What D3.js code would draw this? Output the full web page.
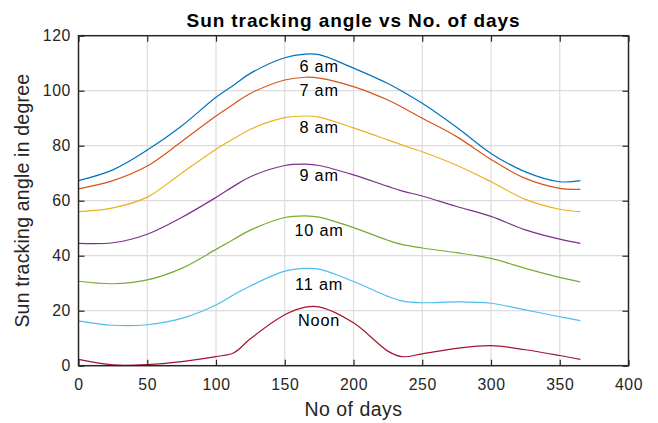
<!DOCTYPE html>
<html><head><meta charset="utf-8">
<script src="https://cdn.jsdelivr.net/npm/d3@7"></script>
<style>body{margin:0;background:#fff}svg{display:block;font-family:"Liberation Sans",Arial,sans-serif}</style>
</head><body><svg id="c" width="658" height="423"></svg>
<script>
const days = [0,25,50,75,100,113,125,150,165,175,200,225,235,250,275,300,325,350,365];
const am6  = [67.3,71.2,78.4,87.2,97.6,102.1,106.3,112.0,113.3,113.1,108.2,102.6,99.9,95.4,86.7,77.2,70.5,66.9,67.3];
const am7  = [64.3,67.3,72.6,81.5,90.8,95.2,99.0,103.9,104.9,104.6,101.5,96.6,94.1,90.0,83.3,75.0,68.1,64.5,64.1];
const am8  = [56.0,57.4,61.3,70.0,78.7,82.6,86.0,90.2,90.8,90.4,86.5,82.1,80.3,77.8,72.9,66.9,60.5,56.9,56.0];
const am9  = [44.5,44.7,47.8,53.9,61.2,65.3,68.7,72.8,73.3,72.8,69.4,65.2,63.6,61.7,57.9,54.3,49.4,46.0,44.5];
const am10 = [30.7,29.8,31.2,35.4,42.3,46.0,49.3,53.9,54.5,54.0,50.2,45.6,44.1,42.8,41.1,39.0,35.4,32.1,30.5];
const am11 = [16.3,14.7,14.9,17.2,22.1,25.8,29.0,34.4,35.4,35.1,30.6,25.2,23.6,22.9,23.2,22.7,20.3,17.8,16.4];
const noon = [2.3,0.3,0.4,1.5,3.3,4.7,9.8,18.5,21.3,21.4,15.6,5.3,3.3,4.3,6.3,7.3,5.8,3.7,2.3];
const seriesNames = ["6 am","7 am","8 am","9 am","10 am","11 am","Noon"];
const labelDay = [175,175,175,175,175,175,175];
const labelVal = [108.9,100.4,86.7,69.5,49.5,29.8,16.8];
const xTicks = [0,50,100,150,200,250,300,350,400];
const yTicks = [0,20,40,60,80,100,120];
const colors = ["#0072BD","#D95319","#EDB120","#7E2F8E","#77AC30","#4DBEEE","#A2142F"];
const allSeries = [am6,am7,am8,am9,am10,am11,noon];

const svg = d3.select("#c");
const L=78.5, R=628.5, T=35.7, B=365.7;
const x = d3.scaleLinear().domain([0,400]).range([L,R]);
const y = d3.scaleLinear().domain([0,120]).range([B,T]);
const ink = "#262626";

// grid
svg.append("g").selectAll("line").data(xTicks.slice(1,-1)).join("line")
  .attr("x1",d=>x(d)).attr("x2",d=>x(d)).attr("y1",T).attr("y2",B)
  .attr("stroke","#dcdcdc").attr("stroke-width",1.2);
svg.append("g").selectAll("line").data(yTicks.slice(1,-1)).join("line")
  .attr("y1",d=>y(d)).attr("y2",d=>y(d)).attr("x1",L).attr("x2",R)
  .attr("stroke","#dcdcdc").attr("stroke-width",1.2);

// lines
const line = d3.line().x(d=>x(d[0])).y(d=>y(d[1])).curve(d3.curveCatmullRom.alpha(0.5));
allSeries.forEach((s,i)=>{
  svg.append("path").datum(days.map((d,j)=>[d,s[j]]))
    .attr("d",line).attr("fill","none").attr("stroke",colors[i]).attr("stroke-width",1.2);
});

// labels
svg.append("g").selectAll("text").data(seriesNames).join("text")
  .attr("x",(d,i)=>x(labelDay[i])).attr("y",(d,i)=>y(labelVal[i]))
  .attr("text-anchor","middle").attr("dominant-baseline","central")
  .attr("font-size",16.3).attr("letter-spacing",0.8).attr("fill","#000").text(d=>d);

// axes
const fs = 15.8;
const xb = d3.axisBottom(x).tickValues(xTicks).tickSizeInner(-6).tickSizeOuter(0).tickPadding(13.5);
const gx = svg.append("g").attr("transform",`translate(0,${B})`).call(xb);
const xt = d3.axisTop(x).tickValues(xTicks).tickSizeInner(-6).tickSizeOuter(0).tickFormat("");
const gxt = svg.append("g").attr("transform",`translate(0,${T})`).call(xt);
const yl = d3.axisLeft(y).tickValues(yTicks).tickSizeInner(-6).tickSizeOuter(0).tickPadding(7.5);
const gy = svg.append("g").attr("transform",`translate(${L},0)`).call(yl);
const yr = d3.axisRight(y).tickValues(yTicks).tickSizeInner(-6).tickSizeOuter(0).tickFormat("");
const gyr = svg.append("g").attr("transform",`translate(${R},0)`).call(yr);
[gx,gxt,gy,gyr].forEach(g=>{
  g.select(".domain").remove();
  g.selectAll("line").attr("stroke",ink).attr("stroke-width",1.2);
  g.selectAll("text").attr("fill",ink).attr("font-size",fs).attr("letter-spacing",0.6)
    .attr("font-family","Liberation Sans, Arial, sans-serif");
});
svg.append("rect").attr("x",L).attr("y",T).attr("width",R-L).attr("height",B-T)
  .attr("fill","none").attr("stroke",ink).attr("stroke-width",1.5);

// titles
svg.append("text").attr("x",(L+R)/2).attr("y",26.5).attr("text-anchor","middle")
  .attr("font-weight","bold").attr("font-size",19).attr("letter-spacing",0.9).attr("fill","#000")
  .text("Sun tracking angle vs No. of days");
svg.append("text").attr("x",(L+R)/2).attr("y",415.5).attr("text-anchor","middle")
  .attr("font-size",19.5).attr("letter-spacing",0.5).attr("fill",ink).text("No of days");
svg.append("text").attr("transform",`translate(28.5,${(T+B)/2}) rotate(-90)`).attr("text-anchor","middle")
  .attr("font-size",19.5).attr("letter-spacing",0.2).attr("fill",ink).text("Sun tracking angle in degree");
</script></body></html>
